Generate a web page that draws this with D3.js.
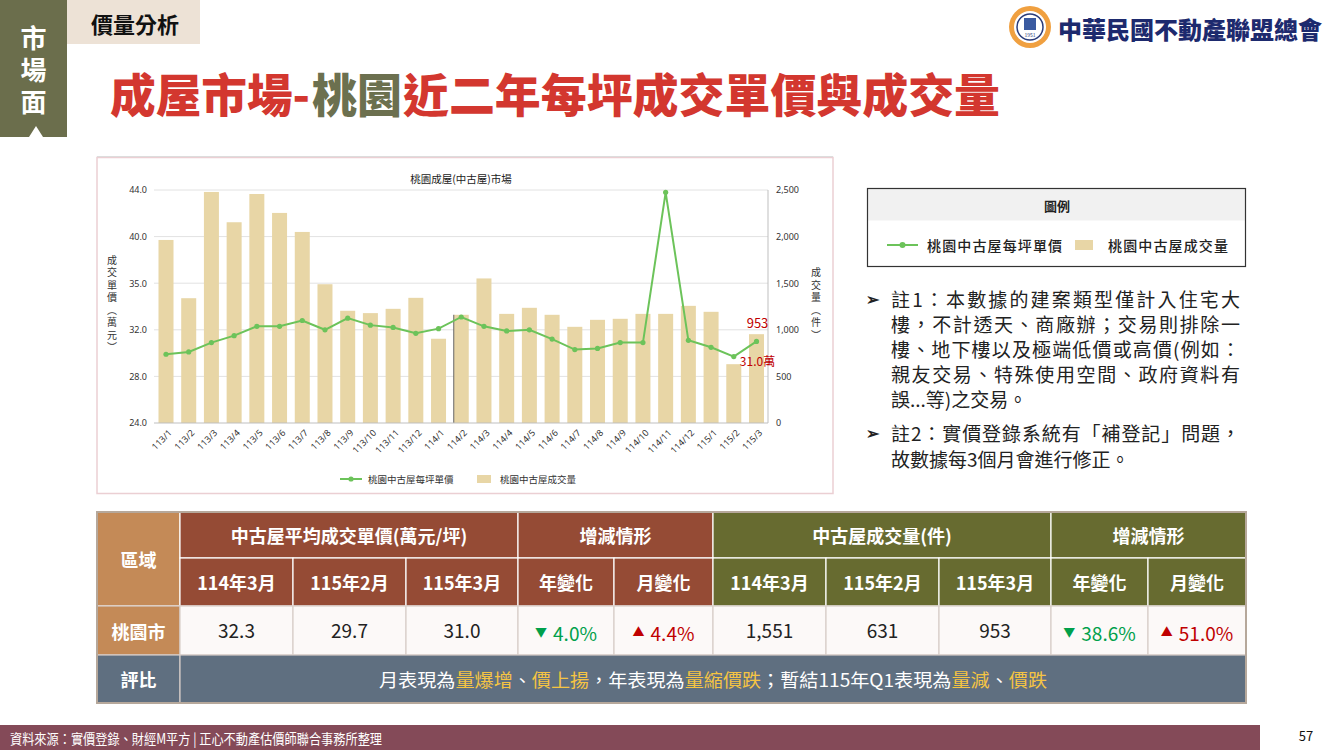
<!DOCTYPE html>
<html><head><meta charset="utf-8">
<script src="https://cdn.jsdelivr.net/npm/d3@7"></script>
<style>
body{margin:0;background:#fff;}
svg{display:block;font-family:"Noto Sans CJK TC","Noto Sans",sans-serif;}
</style></head><body>
<svg id="s" width="1330" height="750"></svg>
<script>
// ---------- data ----------
const months = ["113/1","113/2","113/3","113/4","113/5","113/6","113/7","113/8","113/9","113/10","113/11","113/12",
  "114/1","114/2","114/3","114/4","114/5","114/6","114/7","114/8","114/9","114/10","114/11","114/12","115/1","115/2","115/3"];
const volume = [1964,1339,2479,2154,2457,2254,2050,1489,1204,1179,1225,1343,904,1161,1551,1171,1236,1161,1032,1107,1118,1171,1171,1257,1193,631,953];
const price = [29.9,30.1,30.9,31.5,32.3,32.3,32.8,32.0,33.0,32.4,32.2,31.7,32.1,33.1,32.3,31.9,32.0,31.2,30.3,30.4,30.9,30.9,43.8,31.1,30.5,29.7,31.0];
const leftTicks = [24,28,32,36,40,44];
const leftTickLabels = ["24.0","28.0","32.0","35.0","40.0","44.0"];
const rightTicks = [0,500,1000,1500,2000,2500];
const seriesNames = ["桃園中古屋每坪單價","桃園中古屋成交量"];

const subHeaders = ["114年3月","115年2月","115年3月","年變化","月變化","114年3月","115年2月","115年3月","年變化","月變化"];
const groupHeaders = ["中古屋平均成交單價(萬元/坪)","增減情形","中古屋成交量(件)","增減情形"];
const regionName = "桃園市";
const priceVals = ["32.3","29.7","31.0"];
const priceChg = [["down","4.0%"],["up","4.4%"]];
const volVals = ["1,551","631","953"];
const volChg = [["down","38.6%"],["up","51.0%"]];
const commentParts = [["月表現為",0],["量爆增",1],["、",0],["價上揚",1],["，年表現為",0],["量縮價跌",1],["；暫結115年Q1表現為",0],["量減",1],["、",0],["價跌",1]];
const titleParts = [["成屋市場-","#D3372F",110,200],["桃園","#6C704F",312,90],["近二年每坪成交單價與成交量","#D3372F",403,597]];
const notes = [
  ["註1：本數據的建案類型僅計入住宅大", true, true],
  ["樓，不計透天、商廠辦；交易則排除一", false, true],
  ["樓、地下樓以及極端低價或高價(例如：", false, true],
  ["親友交易、特殊使用空間、政府資料有", false, true],
  ["誤...等)之交易。", false, false],
  ["註2：實價登錄系統有「補登記」問題，", true, true],
  ["故數據每3個月會進行修正。", false, false]
];

const svg = d3.select("#s");

// ---------- header ----------
svg.append("rect").attr("x",0).attr("y",0).attr("width",67).attr("height",137).attr("fill","#6B6E4C");
svg.append("text").attr("x",33.5).attr("y",73).attr("text-anchor","middle")
  .attr("style","writing-mode:vertical-rl;text-orientation:upright;letter-spacing:6px")
  .attr("font-size",26).attr("font-weight",700).attr("fill","#fff").text("市場面");
svg.append("path").attr("d","M29,137 L36,126 L43,137 Z").attr("fill","#fff");
svg.append("rect").attr("x",67).attr("y",0).attr("width",133).attr("height",44).attr("fill","#EDE2D6");
svg.append("text").attr("x",135).attr("y",23).attr("text-anchor","middle").attr("dominant-baseline","central")
  .attr("font-size",22).attr("font-weight",700).attr("fill","#111").text("價量分析");

titleParts.forEach(p=>{
  svg.append("text").attr("x",p[2]).attr("y",112).attr("font-size",46).attr("font-weight",900)
    .attr("fill",p[1]).attr("textLength",p[3]).attr("lengthAdjust","spacingAndGlyphs").text(p[0]);
});

// logo
const lg = svg.append("g");
lg.append("circle").attr("cx",1030).attr("cy",27).attr("r",21).attr("fill","#F0A040");
lg.append("circle").attr("cx",1030).attr("cy",27).attr("r",16).attr("fill","#fff");
lg.append("circle").attr("cx",1030).attr("cy",27).attr("r",13).attr("fill","none").attr("stroke","#2A3C7A").attr("stroke-width",1.5);
lg.append("rect").attr("x",1024).attr("y",18).attr("width",12).attr("height",12).attr("fill","#3A5AA0");
lg.append("text").attr("x",1030).attr("y",37).attr("text-anchor","middle").attr("font-size",5).attr("fill","#2A3C7A").text("1951");
svg.append("text").attr("x",1058).attr("y",28).attr("dominant-baseline","central").attr("font-size",24).attr("font-weight",900)
  .attr("fill","#1D2A6E").attr("textLength",264).attr("lengthAdjust","spacingAndGlyphs").text("中華民國不動產聯盟總會");

// ---------- chart ----------
svg.append("rect").attr("x",97).attr("y",157.5).attr("width",736).attr("height",336).attr("fill","#fff")
  .attr("stroke","#EBCFD3").attr("stroke-width",1.5);
svg.append("line").attr("x1",97).attr("x2",833).attr("y1",156.5).attr("y2",156.5).attr("stroke","#ddd").attr("stroke-width",1);

const x = d3.scalePoint().domain(months).range([166,756.5]);
const yL = d3.scaleLinear().domain([24,44]).range([423,190]);
const yR = d3.scaleLinear().domain([0,2500]).range([423,190]);
const barW = 15;

svg.append("text").attr("x",461).attr("y",178).attr("text-anchor","middle").attr("dominant-baseline","central")
  .attr("font-size",10.5).attr("fill","#222").text("桃園成屋(中古屋)市場");

// grid
svg.append("g").selectAll("line").data(leftTicks.slice(1)).join("line")
  .attr("x1",154).attr("x2",768).attr("y1",d=>yL(d)).attr("y2",d=>yL(d)).attr("stroke","#E2E2E2");

// bars
svg.append("g").selectAll("rect").data(volume).join("rect")
  .attr("x",(d,i)=>x(months[i])-barW/2).attr("width",barW)
  .attr("y",d=>yR(d)).attr("height",d=>yR(0)-yR(d)).attr("fill","#E8D6A6");
svg.append("line").attr("x1",x("114/2")-barW/2).attr("x2",x("114/2")-barW/2)
  .attr("y1",yR(volume[13])).attr("y2",yR(0)).attr("stroke","#666").attr("stroke-width",1);

// axes
svg.append("line").attr("x1",154).attr("x2",768).attr("y1",423).attr("y2",423).attr("stroke","#BFBFBF");
svg.append("line").attr("x1",768).attr("x2",768).attr("y1",190).attr("y2",423).attr("stroke","#BFBFBF");
const axL = d3.axisLeft(yL).tickValues(leftTicks).tickFormat((d,i)=>leftTickLabels[i]).tickSize(0).tickPadding(0);
const gL = svg.append("g").attr("transform","translate(147,0)").call(axL);
gL.select(".domain").remove();
gL.selectAll("text").attr("font-size",9).attr("fill","#333").attr("font-family","'Noto Sans','DejaVu Sans',sans-serif");
const axR = d3.axisRight(yR).tickValues(rightTicks).tickFormat(d3.format(",")).tickSize(0).tickPadding(0);
const gR = svg.append("g").attr("transform","translate(776,0)").call(axR);
gR.select(".domain").remove();
gR.selectAll("text").attr("font-size",9).attr("fill","#333").attr("font-family","'Noto Sans','DejaVu Sans',sans-serif");

svg.append("g").selectAll("text").data(months).join("text")
  .attr("transform",d=>`translate(${x(d)+4},431) rotate(-45)`).attr("text-anchor","end").attr("dominant-baseline","central")
  .attr("font-size",9).attr("fill","#333").attr("font-family","'Noto Sans','DejaVu Sans',sans-serif").text(d=>d);

// axis titles
svg.append("text").attr("x",112).attr("y",305).attr("text-anchor","middle")
  .attr("style","writing-mode:vertical-rl;text-orientation:upright;letter-spacing:2.5px")
  .attr("font-size",10).attr("fill","#333").text("成交單價（萬元）");
svg.append("text").attr("x",816).attr("y",305).attr("text-anchor","middle")
  .attr("style","writing-mode:vertical-rl;text-orientation:upright;letter-spacing:2.5px")
  .attr("font-size",10).attr("fill","#333").text("成交量（件）");

// line
const line = d3.line().x((d,i)=>x(months[i])).y(d=>yL(d));
svg.append("path").datum(price).attr("d",line).attr("fill","none").attr("stroke","#6CC35A").attr("stroke-width",2);
svg.append("g").selectAll("circle").data(price).join("circle")
  .attr("cx",(d,i)=>x(months[i])).attr("cy",d=>yL(d)).attr("r",2.6).attr("fill","#6CC35A");

// annotations
const last = months.length-1;
svg.append("text").attr("x",x(months[last])+1).attr("y",yR(volume[last])-6).attr("text-anchor","middle")
  .attr("font-size",13).attr("fill","#C00000").text(d3.format(",")(volume[last]));
svg.append("text").attr("x",x(months[last])+1).attr("y",yL(price[last])+25).attr("text-anchor","middle")
  .attr("font-size",12).attr("fill","#C00000").text(price[last].toFixed(1)+"萬");

// chart legend
svg.append("line").attr("x1",340).attr("x2",362).attr("y1",479).attr("y2",479).attr("stroke","#6CC35A").attr("stroke-width",2);
svg.append("circle").attr("cx",351).attr("cy",479).attr("r",2.6).attr("fill","#6CC35A");
svg.append("text").attr("x",368).attr("y",479).attr("dominant-baseline","central").attr("font-size",9.5).attr("fill","#333").text(seriesNames[0]);
svg.append("rect").attr("x",477).attr("y",475).attr("width",14).attr("height",8).attr("fill","#E8D6A6");
svg.append("text").attr("x",500).attr("y",479).attr("dominant-baseline","central").attr("font-size",9.5).attr("fill","#333").text(seriesNames[1]);

// ---------- legend box ----------
svg.append("rect").attr("x",867.5).attr("y",188.5).attr("width",378).attr("height",32).attr("fill","#F1F1F1");
svg.append("rect").attr("x",867.5).attr("y",188.5).attr("width",378).attr("height",78).attr("fill","none").attr("stroke","#333").attr("stroke-width",1.2);
svg.append("text").attr("x",1057).attr("y",205).attr("text-anchor","middle").attr("dominant-baseline","central")
  .attr("font-size",13).attr("font-weight",700).attr("fill","#222").text("圖例");
svg.append("line").attr("x1",887).attr("x2",918).attr("y1",245).attr("y2",245).attr("stroke","#6CC35A").attr("stroke-width",2);
svg.append("circle").attr("cx",902.5).attr("cy",245).attr("r",3).attr("fill","#6CC35A");
svg.append("text").attr("x",927).attr("y",245).attr("dominant-baseline","central").attr("font-size",14).attr("font-weight",500)
  .attr("fill","#222").attr("textLength",135).text(seriesNames[0]);
svg.append("rect").attr("x",1075).attr("y",240).attr("width",18).attr("height",10).attr("fill","#E8D6A6");
svg.append("text").attr("x",1108).attr("y",245).attr("dominant-baseline","central").attr("font-size",14).attr("font-weight",500)
  .attr("fill","#222").attr("textLength",120).text(seriesNames[1]);

// notes
const noteY = [298,323,348,373,398,432,458];
notes.forEach((n,i)=>{
  if(n[1]) svg.append("text").attr("x",866).attr("y",noteY[i]).attr("dominant-baseline","central")
    .attr("font-size",16).attr("font-weight",700).attr("fill","#222").text("➢");
  const t = svg.append("text").attr("x",891).attr("y",noteY[i]).attr("dominant-baseline","central")
    .attr("font-size",19).attr("fill","#222").text(n[0]);
  if(n[2]) t.attr("textLength",349).attr("lengthAdjust","spacing");
});

// ---------- table ----------
const cols=[97,180,293,406,518,614,713,826,939,1051,1148,1246];
const rows=[512,558,606,655,703];
const BROWN="#954B35", OLIVE="#676B30", TAN="#C48A57", SLATE="#5F6F80", CELL="#FCF9F8";
const tg = svg.append("g");
function cell(x0,x1,y0,y1,fill,stroke){
  tg.append("rect").attr("x",x0).attr("y",y0).attr("width",x1-x0).attr("height",y1-y0).attr("fill",fill)
    .attr("stroke",stroke).attr("stroke-width",1.2);
}
function txt(xc,yc,s,size,weight,fill){
  return tg.append("text").attr("x",xc).attr("y",yc).attr("text-anchor","middle").attr("dominant-baseline","central")
    .attr("font-size",size).attr("font-weight",weight).attr("fill",fill).text(s);
}
cell(cols[0],cols[1],rows[0],rows[2],TAN,"#fff");
txt((cols[0]+cols[1])/2,(rows[0]+rows[2])/2,"區域",18,700,"#fff");
const spans=[[1,4],[4,6],[6,9],[9,11]];
spans.forEach((s,i)=>{
  const f = i<2?BROWN:OLIVE;
  cell(cols[s[0]],cols[s[1]],rows[0],rows[1],f,"#fff");
  txt((cols[s[0]]+cols[s[1]])/2,(rows[0]+rows[1])/2,groupHeaders[i],18,700,"#fff");
});
subHeaders.forEach((h,i)=>{
  const f = i<5?BROWN:OLIVE;
  cell(cols[i+1],cols[i+2],rows[1],rows[2],f,"#fff");
  txt((cols[i+1]+cols[i+2])/2,(rows[1]+rows[2])/2,h,18,700,"#fff");
});
cell(cols[0],cols[1],rows[2],rows[3],TAN,"#D8CEC8");
txt((cols[0]+cols[1])/2,(rows[2]+rows[3])/2,regionName,18,700,"#fff");
const dataRow = [...priceVals, ...priceChg, ...volVals, ...volChg];
dataRow.forEach((v,i)=>{
  const x0=cols[i+1], x1=cols[i+2], yc=(rows[2]+rows[3])/2;
  cell(x0,x1,rows[2],rows[3],CELL,"#D8CEC8");
  if(Array.isArray(v)){
    const col = v[0]==="down"?"#00A04B":"#C00000";
    const t = txt((x0+x1)/2,yc+1,"",19,400,col);
    t.append("tspan").attr("font-size",12).attr("dy",-1).text(v[0]==="down"?"▼":"▲");
    t.append("tspan").attr("dy",1).attr("dx",6).text(v[1]);
  } else {
    txt((x0+x1)/2,yc-1,v,19,400,"#222");
  }
});
cell(cols[0],cols[1],rows[3],rows[4],SLATE,"#D8CEC8");
txt((cols[0]+cols[1])/2,(rows[3]+rows[4])/2,"評比",18,700,"#fff");
cell(cols[1],cols[11],rows[3],rows[4],SLATE,"#D8CEC8");
const ct = txt((cols[1]+cols[11])/2,(rows[3]+rows[4])/2,"",18,400,"#fff")
  .attr("textLength",668).attr("lengthAdjust","spacingAndGlyphs");
commentParts.forEach(p=>ct.append("tspan").attr("fill",p[1]?"#F5C443":"#fff").text(p[0]));
tg.append("rect").attr("x",cols[0]).attr("y",rows[0]).attr("width",cols[11]-cols[0]).attr("height",rows[4]-rows[0])
  .attr("fill","none").attr("stroke","#B6A89B").attr("stroke-width",2);

// ---------- footer ----------
svg.append("rect").attr("x",0).attr("y",725).attr("width",1260).attr("height",25).attr("fill","#844A58");
svg.append("text").attr("x",10).attr("y",738).attr("dominant-baseline","central").attr("font-size",14).attr("fill","#fff")
  .attr("textLength",372).attr("lengthAdjust","spacingAndGlyphs").text("資料來源：實價登錄、財經M平方 | 正心不動產估價師聯合事務所整理");
svg.append("text").attr("x",1306).attr("y",735).attr("text-anchor","middle").attr("dominant-baseline","central")
  .attr("font-size",13).attr("fill","#111").text("57");
</script>
</body></html>
